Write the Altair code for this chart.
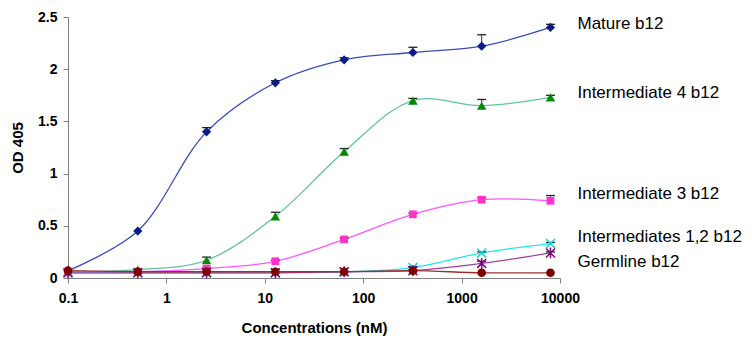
import altair as alt
import pandas as pd

# ---- data ----
conc = [0.1, 0.512, 2.56, 12.8, 64, 320, 1600, 8000]

mature = [0.07, 0.45, 1.40, 1.87, 2.09, 2.16, 2.22, 2.40]
mature_err = [0, 0, 0.04, 0.02, 0.02, 0.05, 0.11, 0.03]

int4 = [0.06, 0.08, 0.17, 0.59, 1.21, 1.70, 1.65, 1.73]
int4_err = [0, 0, 0.03, 0.04, 0.03, 0.02, 0.06, 0.02]

int3 = [0.06, 0.06, 0.09, 0.16, 0.37, 0.61, 0.75, 0.74]
int3_err = [0, 0, 0.01, 0.01, 0.01, 0.01, 0.02, 0.05]

int1 = [0.05, 0.05, 0.05, 0.05, 0.06, 0.10, 0.24, 0.33]
int1_err = [0, 0, 0, 0, 0, 0.01, 0.01, 0.01]

int2 = [0.05, 0.05, 0.05, 0.05, 0.06, 0.07, 0.14, 0.24]
int2_err = [0, 0, 0, 0, 0, 0.01, 0.02, 0.01]

germ = [0.07, 0.06, 0.06, 0.06, 0.06, 0.07, 0.05, 0.05]
germ_err = [0, 0, 0, 0, 0, 0, 0, 0]

label_texts = ["Mature b12", "Intermediate 4 b12", "Intermediate 3 b12",
               "Intermediates 1,2 b12", "Germline b12"]
label_levels = [2.43, 1.77, 0.80, 0.39, 0.15]

x_ticks = [0.1, 1, 10, 100, 1000, 10000]
y_ticks = [0, 0.5, 1, 1.5, 2, 2.5]

FONT = "Liberation Sans"

series = [
    ("Mature", mature, mature_err, "#3a4cb8", "#0a1a8a", "diamond", True, 85),
    ("Int4", int4, int4_err, "#62c49a", "#008a00", "triangle-up", True, 90),
    ("Int3", int3, int3_err, "#ff55ff", "#ff33cc", "square", True, 60),
    ("Int1", int1, int1_err, "#22e8e8", "#00d8d8", "M-1,-1L1,1M-1,1L1,-1", False, 80),
    ("Int2", int2, int2_err, "#a040a0", "#800080", "M-1,-1L1,1M-1,1L1,-1M0,-1.2L0,1.2", False, 80),
    ("Germ", germ, germ_err, "#9a3030", "#800000", "circle", True, 75),
]

xscale = alt.Scale(type="log", domain=[0.1, 10000], nice=False)
yscale = alt.Scale(domain=[0, 2.5], nice=False)

xaxis = alt.Axis(values=x_ticks, format="~g", grid=False, title="Concentrations (nM)",
                 domainColor="#808080", tickColor="#808080", tickSize=5,
                 labelFont=FONT, labelFontSize=14, labelFontWeight="bold", labelColor="black",
                 labelPadding=8, labelOverlap=False, labelFlush=False,
                 titleFont=FONT, titleFontSize=15, titleFontWeight="bold", titleColor="black",
                 titleY=42)
yaxis = alt.Axis(values=y_ticks, format="~g", grid=False, title="OD 405",
                 domainColor="#808080", tickColor="#808080", tickSize=5,
                 labelFont=FONT, labelFontSize=14, labelFontWeight="bold", labelColor="black",
                 labelPadding=6, labelOverlap=False, labelFlush=False,
                 titleFont=FONT, titleFontSize=15, titleFontWeight="bold", titleColor="black",
                 titleX=-43)

X = alt.X("conc:Q", scale=xscale, axis=xaxis)
Y = alt.Y("od:Q", scale=yscale, axis=yaxis)

layers = []
for name, vals, errs, lc, mc, shape, filled, size in series:
    df = pd.DataFrame({"conc": conc, "od": vals, "err": errs})
    df["top"] = df["od"] + df["err"]
    base = alt.Chart(df)
    layers.append(base.mark_line(interpolate="catmull-rom", color=lc, strokeWidth=1.3).encode(x=X, y=Y))
    dfe = df[df["err"] > 0]
    if len(dfe):
        eb = alt.Chart(dfe)
        layers.append(eb.mark_rule(color="#333333", strokeWidth=1).encode(x=X, y=Y, y2="top:Q"))
        layers.append(eb.mark_point(shape="M-1,0L1,0", size=81, filled=False, color="#222222",
                                    strokeWidth=1.3, opacity=1).encode(x=X, y=alt.Y("top:Q", scale=yscale, axis=yaxis)))
    if filled:
        layers.append(base.mark_point(shape=shape, size=size, filled=True, color=mc, opacity=1).encode(x=X, y=Y))
    else:
        layers.append(base.mark_point(shape=shape, size=size, filled=False, color=mc, strokeWidth=1.5,
                                      opacity=1).encode(x=X, y=Y))

lab_df = pd.DataFrame({"label": label_texts, "od": label_levels, "conc": [8000] * len(label_texts)})
layers.append(alt.Chart(lab_df).mark_text(align="left", baseline="middle", dx=27, font=FONT,
                                          fontSize=17, color="black").encode(x=X, y=Y, text="label:N"))

chart = alt.layer(*layers).properties(
    width=492, height=261,
    padding={"left": 60, "top": 9, "right": 184, "bottom": 60},
    autosize=alt.AutoSizeParams(type="none"),
).configure_view(stroke=None)

chart.save("out.html", embed_options={"renderer": "svg", "actions": False})
